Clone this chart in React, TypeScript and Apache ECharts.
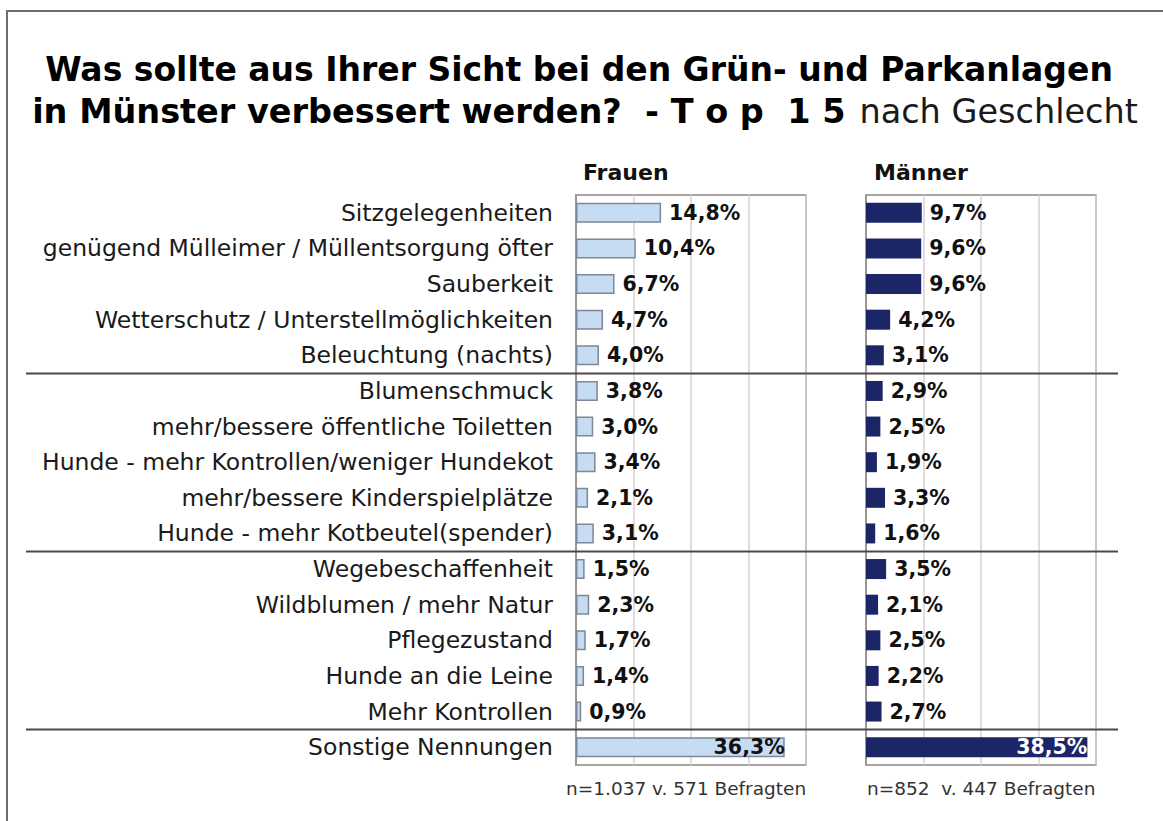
import React, { useEffect, useRef } from "react";
import * as echarts from "echarts";

const categories = [
  "Sitzgelegenheiten",
  "genügend Mülleimer / Müllentsorgung öfter",
  "Sauberkeit",
  "Wetterschutz / Unterstellmöglichkeiten",
  "Beleuchtung (nachts)",
  "Blumenschmuck",
  "mehr/bessere öffentliche Toiletten",
  "Hunde - mehr Kontrollen/weniger Hundekot",
  "mehr/bessere Kinderspielplätze",
  "Hunde - mehr Kotbeutel(spender)",
  "Wegebeschaffenheit",
  "Wildblumen / mehr Natur",
  "Pflegezustand",
  "Hunde an die Leine",
  "Mehr Kontrollen",
  "Sonstige Nennungen",
];
const frauen = [14.8, 10.4, 6.7, 4.7, 4.0, 3.8, 3.0, 3.4, 2.1, 3.1, 1.5, 2.3, 1.7, 1.4, 0.9, 36.3];
const maenner = [9.7, 9.6, 9.6, 4.2, 3.1, 2.9, 2.5, 1.9, 3.3, 1.6, 3.5, 2.1, 2.5, 2.2, 2.7, 38.5];
const separatorsAfter = [4, 9, 14];

const FONT = "DejaVu Sans";
const fmt = (v: number) => v.toFixed(1).replace(".", ",") + "%";

export default function App() {
  const ref = useRef<HTMLDivElement>(null);
  useEffect(() => {
    const chart = echarts.init(ref.current!, undefined, { renderer: "svg" });
    const gridTop = 195;
    const gridH = 570;
    const mkData = (arr: number[], lastColor: string) =>
      arr.map((v, i) =>
        i === arr.length - 1
          ? { value: v, label: { position: "insideRight", distance: 0, color: lastColor } }
          : v
      );
    const xAxisBase = {
      type: "value",
      min: 0,
      max: 40,
      interval: 10,
      axisLabel: { show: false },
      axisLine: { show: false },
      axisTick: { show: false },
      splitLine: { show: true, lineStyle: { color: "#d9d2ce", width: 1.5 } },
    };
    const yAxisBase = {
      type: "category",
      data: categories,
      inverse: true,
      axisTick: { show: false },
      axisLine: { show: true, lineStyle: { color: "#8c8784", width: 1.5 } },
    };
    const valueLabel = {
      show: true,
      position: "right",
      distance: 8,
      fontFamily: FONT,
      fontWeight: "bold",
      fontSize: 20.5,
      color: "#111111",
      formatter: (p: any) => fmt(p.value),
    };
    chart.setOption({
      animation: false,
      backgroundColor: "#ffffff",
      grid: [
        { left: 576, width: 230, top: gridTop, height: gridH, show: true, borderColor: "#8c8784", borderWidth: 1.5 },
        { left: 866, width: 230, top: gridTop, height: gridH, show: true, borderColor: "#8c8784", borderWidth: 1.5 },
      ],
      xAxis: [
        { ...xAxisBase, gridIndex: 0 },
        { ...xAxisBase, gridIndex: 1 },
      ],
      yAxis: [
        {
          ...yAxisBase,
          gridIndex: 0,
          axisLabel: { margin: 23, fontFamily: FONT, fontSize: 23.5, color: "#1a1a1a" },
        },
        { ...yAxisBase, gridIndex: 1, axisLabel: { show: false } },
      ],
      series: [
        {
          type: "bar",
          xAxisIndex: 0,
          yAxisIndex: 0,
          data: mkData(frauen, "#111111"),
          barWidth: 20,
          itemStyle: { color: "#c6dcf2", borderColor: "#7d8798", borderWidth: 1.5 },
          label: valueLabel,
        },
        {
          type: "bar",
          xAxisIndex: 1,
          yAxisIndex: 1,
          data: mkData(maenner, "#ffffff"),
          barWidth: 20,
          itemStyle: { color: "#1c2566" },
          label: valueLabel,
        },
      ],
    });

    const rowH = gridH / categories.length;
    const sepLines = separatorsAfter.map((idx) => {
      const c = chart.convertToPixel({ yAxisIndex: 0 }, idx) as number;
      const y = Math.round(c + rowH / 2) + 0.5;
      return {
        type: "line",
        shape: { x1: 26, y1: y, x2: 1118, y2: y },
        style: { stroke: "#4a4a4a", lineWidth: 2 },
        z: 10,
      };
    });

    chart.setOption({
      graphic: [
        {
          type: "rect",
          shape: { x: 7, y: 11, width: 1200, height: 900 },
          style: { fill: "none", stroke: "#6e6e6e", lineWidth: 2 },
          silent: true,
        },
        {
          type: "text",
          x: 579,
          y: 53,
          style: {
            text: "Was sollte aus Ihrer Sicht bei den Grün- und Parkanlagen",
            fontFamily: FONT,
            fontWeight: "bold",
            fontSize: 33,
            fill: "#000000",
            align: "center",
            verticalAlign: "top",
          },
        },
        {
          type: "text",
          x: 585,
          y: 94,
          style: {
            text: "{b|in Münster verbessert werden?  - T o p  1 5} {n| nach Geschlecht}",
            align: "center",
            verticalAlign: "top",
            rich: {
              b: { fontFamily: FONT, fontWeight: "bold", fontSize: 33.5, fill: "#000000" },
              n: { fontFamily: FONT, fontWeight: "normal", fontSize: 33.5, fill: "#1a1a1a" },
            },
          },
        },
        {
          type: "text",
          x: 583,
          y: 161,
          style: { text: "Frauen", fontFamily: FONT, fontWeight: "bold", fontSize: 22, fill: "#111" },
        },
        {
          type: "text",
          x: 874,
          y: 161,
          style: { text: "Männer", fontFamily: FONT, fontWeight: "bold", fontSize: 22, fill: "#111" },
        },
        {
          type: "text",
          x: 566,
          y: 779,
          style: { text: "n=1.037 v. 571 Befragten", fontFamily: FONT, fontSize: 18.5, fill: "#333" },
        },
        {
          type: "text",
          x: 867,
          y: 779,
          style: { text: "n=852  v. 447 Befragten", fontFamily: FONT, fontSize: 18.5, fill: "#333" },
        },
        ...sepLines,
      ],
    });
    return () => chart.dispose();
  }, []);
  return <div ref={ref} style={{ width: 1163, height: 821, position: "absolute", left: 0, top: 0 }} />;
}
